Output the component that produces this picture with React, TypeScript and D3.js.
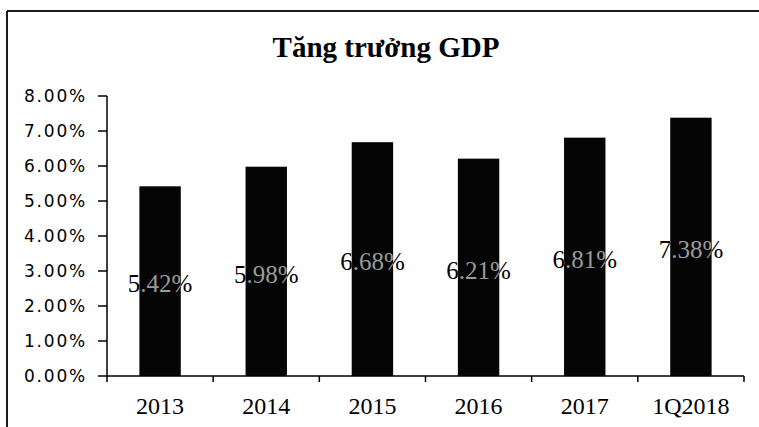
import React from "react";
import * as d3 from "d3";

const categories = ["2013", "2014", "2015", "2016", "2017", "1Q2018"];
const values = [5.42, 5.98, 6.68, 6.21, 6.81, 7.38];
const yTicks = [0, 1, 2, 3, 4, 5, 6, 7, 8];
const title = "Tăng trưởng GDP";

const W = 759;
const H = 427;
const left = 107;
const right = 744;
const top = 96;
const bottom = 376;

export default function App() {
  const x = d3.scaleBand<string>().domain(categories).range([left, right]).paddingInner(0.61).paddingOuter(0.305);
  const y = d3.scaleLinear().domain([0, 8]).range([bottom, top]);
  const boundaries = d3.range(categories.length + 1).map((i) => left + i * ((right - left) / categories.length));

  const label = (c: string, i: number, fill: string) => (
    <text
      key={c}
      x={(x(c) as number) + x.bandwidth() / 2}
      y={y(values[i] / 2)}
      dy="0.45em"
      textAnchor="middle"
      fontFamily="'Liberation Serif', serif"
      fontSize={25}
      fill={fill}
    >
      {values[i].toFixed(2) + "%"}
    </text>
  );

  return (
    <svg width={W} height={H} style={{ position: "absolute", left: 0, top: 0, background: "#fff" }}>
      <defs>
        <clipPath id="barsClip">
          {categories.map((c, i) => (
            <rect key={c} x={x(c)} y={y(values[i])} width={x.bandwidth()} height={bottom - y(values[i])} />
          ))}
        </clipPath>
      </defs>
      <rect x={0} y={0} width={W} height={H} fill="#fff" />
      {/* frame */}
      <line x1={7} y1={11} x2={W} y2={11} stroke="#1a1a1a" strokeWidth={2} />
      <line x1={7} y1={11} x2={7} y2={H} stroke="#1a1a1a" strokeWidth={2} />
      <text x={386} y={57} textAnchor="middle" fontFamily="'Liberation Serif', serif" fontWeight="bold" fontSize={29} fill="#000">
        {title}
      </text>
      {/* bars */}
      {categories.map((c, i) => (
        <rect key={c} x={x(c)} y={y(values[i])} width={x.bandwidth()} height={bottom - y(values[i])} fill="#050505" />
      ))}
      {/* y axis */}
      <line x1={left} y1={y(8)} x2={left} y2={bottom} stroke="#000" strokeWidth={1.5} />
      {yTicks.map((t) => (
        <g key={t}>
          <line x1={left - 9} x2={left} y1={y(t)} y2={y(t)} stroke="#000" strokeWidth={1.5} />
          <text x={87} y={y(t)} dy="0.36em" textAnchor="end" fontFamily="'DejaVu Sans', sans-serif" fontSize={17} letterSpacing={1.8} fill="#000">
            {t.toFixed(2) + "%"}
          </text>
        </g>
      ))}
      {/* x axis */}
      <line x1={left} x2={right} y1={bottom} y2={bottom} stroke="#000" strokeWidth={1.5} />
      {boundaries.map((b, i) => (
        <line key={i} x1={b} x2={b} y1={bottom} y2={bottom + 6} stroke="#000" strokeWidth={1.5} />
      ))}
      {categories.map((c) => (
        <text key={c} x={(x(c) as number) + x.bandwidth() / 2} y={414} textAnchor="middle" fontFamily="'Liberation Serif', serif" fontSize={24} fill="#000">
          {c}
        </text>
      ))}
      {/* data labels */}
      <g>{categories.map((c, i) => label(c, i, "#000"))}</g>
      <g clipPath="url(#barsClip)">{categories.map((c, i) => label(c, i, "#9a9a9a"))}</g>
    </svg>
  );
}
